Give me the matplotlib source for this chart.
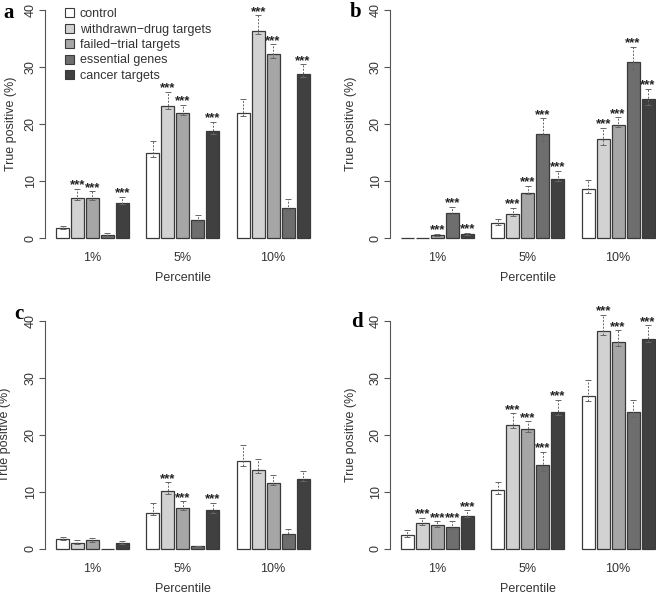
import numpy as np
import matplotlib
matplotlib.use('Agg'); import matplotlib.pyplot as plt
from matplotlib.patches import Patch

plt.rcParams['font.family'] = ['Liberation Sans', 'DejaVu Sans']
nan = np.nan

percentiles = ['1%', '5%', '10%']
series = ['control', 'withdrawn\u2212drug targets', 'failed\u2212trial targets', 'essential genes', 'cancer targets']
colors = ['white', '#d2d2d2', '#a6a6a6', '#6e6e6e', '#404040']

# rows = series, cols = percentiles ; tp = bar, hi/lo = whisker ends, sig = *** shown
a_tp = [[1.75, 15.0, 21.9], [7.1, 23.2, 36.4], [7.1, 22.0, 32.2], [0.6, 3.1, 5.3], [6.2, 18.8, 28.7]]
a_hi = [[2.1, 17.1, 24.4], [8.6, 25.7, 39.1], [8.2, 23.4, 34.0], [0.8, 4.1, 6.8], [7.2, 20.4, 30.5]]
a_lo = [[1.5, 14.2, 21.4], [6.6, 22.6, 35.8], [6.6, 21.5, 31.6], [0.4, 2.75, 4.85], [5.9, 18.3, 28.2]]
a_sig = [[0, 0, 0], [1, 1, 1], [1, 1, 1], [0, 0, 0], [1, 1, 1]]

b_tp = [[0, 2.6, 8.65], [0, 4.15, 17.3], [0.5, 7.95, 19.9], [4.4, 18.2, 30.8], [0.75, 10.4, 24.3]]
b_hi = [[nan, 3.3, 10.2], [nan, 5.3, 19.3], [0.7, 9.2, 21.2], [5.5, 21.0, 33.5], [0.9, 11.8, 26.2]]
b_lo = [[nan, 2.2, 7.9], [nan, 3.9, 16.4], [0.4, 7.7, 19.5], [4.2, 17.1, 29.6], [0.6, 10.0, 23.4]]
b_sig = [[0, 0, 0], [0, 1, 1], [1, 1, 1], [1, 1, 1], [1, 1, 1]]

c_tp = [[1.75, 6.4, 15.5], [1.1, 10.15, 13.9], [1.5, 7.2, 11.55], [0, 0.5, 2.6], [1.1, 6.8, 12.3]]
c_hi = [[2.1, 8.05, 18.3], [1.5, 11.7, 15.8], [1.9, 8.4, 12.9], [nan, 0.6, 3.5], [1.45, 8.1, 13.6]]
c_lo = [[1.5, 5.95, 14.5], [0.9, 9.6, 13.4], [1.3, 6.9, 11.15], [nan, 0.4, 2.1], [0.9, 6.4, 11.85]]
c_sig = [[0, 0, 0], [0, 1, 0], [0, 1, 0], [0, 0, 0], [0, 1, 0]]

d_tp = [[2.45, 10.3, 26.8], [4.55, 21.7, 38.25], [4.15, 21.0, 36.3], [3.85, 14.8, 24.05], [5.85, 24.05, 36.85]]
d_hi = [[3.25, 11.8, 29.6], [5.5, 23.8, 41.05], [4.85, 22.4, 38.4], [4.85, 17.05, 26.2], [6.8, 26.2, 39.25]]
d_lo = [[2.15, 9.6, 26.0], [4.2, 21.2, 37.55], [3.9, 20.5, 35.7], [3.5, 13.7, 23.2], [5.6, 23.5, 36.4]]
d_sig = [[0, 0, 0], [1, 1, 1], [1, 1, 1], [1, 1, 0], [1, 1, 1]]

W, H = 656, 594
fig = plt.figure(figsize=(W/100, H/100), dpi=100)
PPX, PPY = 13.0, 5.7           # pixels per data unit (x, y)
XL, XR, YB, YT = -0.85, 20.35, -1.0, 41.5
GSTEP, BSTEP = 6.95, 1.15      # group step, bar step (bar width 1)
FS = 9

def panel(x0, y0, tp, hi, lo, sig, letter, lx, ly, ylx):
    left = x0 + XL*PPX; right = x0 + XR*PPX
    top = y0 - YT*PPY; bottom = y0 - YB*PPY
    ax = fig.add_axes([left/W, 1-bottom/H, (right-left)/W, (bottom-top)/H])
    ax.set_xlim(XL, XR); ax.set_ylim(YB, YT)
    tp, hi, lo = np.array(tp, float), np.array(hi, float), np.array(lo, float)
    for i in range(len(series)):
        xs = np.arange(3)*GSTEP + i*BSTEP + 0.5
        ax.bar(xs, tp[i], 1.0, color=colors[i], edgecolor='#3a3a3a', linewidth=0.9, zorder=2)
        eb = ax.errorbar(xs, tp[i], yerr=[tp[i]-lo[i], hi[i]-tp[i]], fmt='none', ecolor='#666666',
                         elinewidth=0.7, capsize=2, capthick=0.7, zorder=3)
        eb[2][0].set_linestyle((0, (2, 1.5)))
        for j in range(3):
            if sig[i][j]:
                ax.annotate('***', (xs[j], hi[i][j]), xytext=(0, 0.3), textcoords='offset points',
                            ha='center', va='baseline', fontsize=9.5, fontweight='bold', color='#222',
                            annotation_clip=False)
    for s in ['top', 'right', 'bottom']: ax.spines[s].set_visible(False)
    ax.spines['left'].set_bounds(0, 40); ax.spines['left'].set_color('#555')
    ax.set_yticks([0, 10, 20, 30, 40])
    ax.tick_params(axis='y', length=4, pad=2, labelsize=FS, labelrotation=90, color='#555', labelcolor='#333')
    for t in ax.get_yticklabels(): t.set_va('center')
    ax.set_xticks(np.arange(3)*GSTEP + 2.8); ax.set_xticklabels(percentiles)
    ax.tick_params(axis='x', length=0, pad=6, labelsize=FS, labelcolor='#333')
    hpx = bottom - top
    ax.set_xlabel('Percentile', fontsize=FS, color='#333')
    ax.xaxis.set_label_coords(0.5, -28.5/hpx)
    fig.text(ylx/W, 1-(y0-20*PPY)/H, 'True positive (%)', rotation=90, ha='center', va='center',
             fontsize=FS, color='#333')
    fig.text(lx/W, 1-ly/H, letter, family='Liberation Serif', fontweight='bold', fontsize=15,
             ha='left', va='baseline')
    return ax

axa = panel(56, 238, a_tp, a_hi, a_lo, a_sig, 'a', 3, 18, 11)
axb = panel(401, 238, b_tp, b_hi, b_lo, b_sig, 'b', 350, 17, 351)
axc = panel(56, 549, c_tp, c_hi, c_lo, c_sig, 'c', 14, 319, 5)
axd = panel(401, 549, d_tp, d_hi, d_lo, d_sig, 'd', 351, 327, 351)

handles = [Patch(facecolor=c, edgecolor='#3a3a3a', linewidth=0.8) for c in colors]
fig.legend(handles, series, loc='upper left', bbox_to_anchor=(65/W, 1-8/H), frameon=False,
           fontsize=FS, handlelength=0.75, handleheight=0.75, handletextpad=0.45,
           labelspacing=0.28, borderaxespad=0, borderpad=0, labelcolor='#333')

plt.savefig('out.png', dpi=100)
